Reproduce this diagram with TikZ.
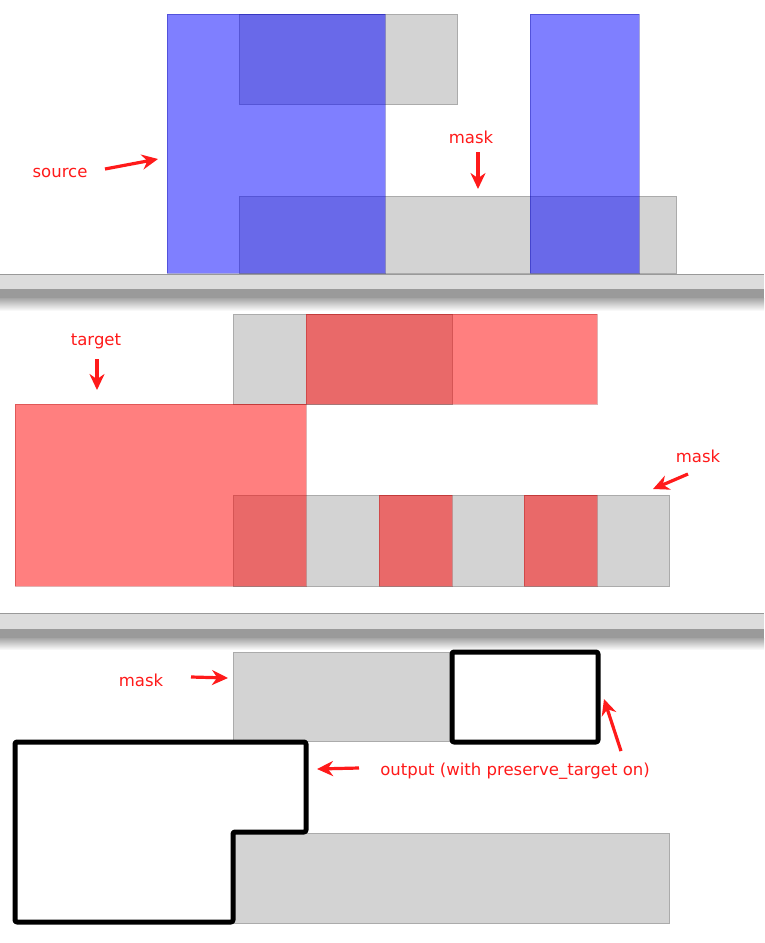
\documentclass[tikz,border=0pt]{standalone}
\usepackage{fontspec}
\newfontfamily\labelfont{DejaVu Sans}
\usetikzlibrary{arrows.meta}

\definecolor{maskgray}{HTML}{D3D3D3}
\definecolor{maskedge}{HTML}{ABABAB}
\definecolor{barlight}{HTML}{DCDCDC}
\definecolor{bardark}{HTML}{9A9A9A}
\definecolor{callred}{HTML}{FF1A1A}

\tikzset{
    maskbox/.style={fill=maskgray, draw=maskedge, line width=0.8},
    srcbox/.style={fill=blue, fill opacity=0.5, draw=blue!60!black, draw opacity=0.35, line width=0.8},
    tgtbox/.style={fill=red, fill opacity=0.5, draw=red!60!black, draw opacity=0.3, line width=0.8},
    outbox/.style={draw=black, line width=5, line join=round, rounded corners=2},
    callout/.style={text=callred, font=\labelfont\fontsize{16.5}{18}\selectfont, inner sep=1},
    pointer/.style={draw=callred, line width=3.2, -{Stealth[length=16, width=15]}}
}

\begin{document}
\begin{tikzpicture}[x=1pt, y=-1pt]
    \fill[white] (0, 0) rectangle (764, 943);
    \useasboundingbox (0, 0) rectangle (764, 943);

    % window bars between the three shots
    \fill[barlight] (0, 274) rectangle (764, 289);
    \fill[bardark] (0, 289) rectangle (764, 298);
    \shade[top color=black!35, bottom color=white] (0, 298) rectangle (764, 311);
    \draw[black!40, line width=1] (0, 274) -- (764, 274);

    \fill[barlight] (0, 613) rectangle (764, 629);
    \fill[bardark] (0, 629) rectangle (764, 638);
    \shade[top color=black!35, bottom color=white] (0, 638) rectangle (764, 650);
    \draw[black!40, line width=1] (0, 613) -- (764, 613);

    % source over mask
    \draw[maskbox] (239, 14) rectangle (457, 104);
    \draw[maskbox] (239, 196) rectangle (676, 273);
    \draw[srcbox] (167, 14) rectangle (385, 273);
    \draw[srcbox] (530, 14) rectangle (639, 273);

    \node[callout] (source) at (60, 173) {source};
    \coordinate (sourcetail) at (105, 169);
    \coordinate (sourcetip) at (158, 159);
    \draw[pointer] (sourcetail) -- (sourcetip);

    \node[callout] (maskA) at (471, 137) {mask};
    \coordinate (maskAtail) at (478, 152);
    \coordinate (maskAtip) at (478, 189);
    \draw[pointer] (maskAtail) -- (maskAtip);

    % target over mask
    \draw[maskbox] (233, 314) rectangle (452, 404);
    \draw[maskbox] (233, 495) rectangle (669, 586);
    \draw[tgtbox] (306, 314) rectangle (597, 404);
    \draw[tgtbox] (15, 404) rectangle (306, 586);
    \draw[tgtbox] (379, 495) rectangle (452, 586);
    \draw[tgtbox] (524, 495) rectangle (597, 586);

    \node[callout] (target) at (96, 341) {target};
    \coordinate (targettail) at (97, 359);
    \coordinate (targettip) at (97, 390);
    \draw[pointer] (targettail) -- (targettip);

    \node[callout] (maskB) at (698, 456) {mask};
    \coordinate (maskBtail) at (688, 474);
    \coordinate (maskBtip) at (653, 489);
    \draw[pointer] (maskBtail) -- (maskBtip);

    % output
    \draw[maskbox] (233, 652) rectangle (452, 741);
    \draw[maskbox] (233, 833) rectangle (669, 923);
    \draw[outbox] (452, 652) rectangle (598, 742);
    \draw[outbox] (15, 742) -- (306, 742) -- (306, 832) -- (233, 832)
        -- (233, 922) -- (15, 922) -- cycle;

    \node[callout] (maskC) at (141, 680) {mask};
    \coordinate (maskCtail) at (191, 677);
    \coordinate (maskCtip) at (228, 678);
    \draw[pointer] (maskCtail) -- (maskCtip);

    \node[callout] (output) at (515, 771) {output (with preserve\_target on)};
    \coordinate (outputtail) at (359, 768);
    \coordinate (outputtip) at (317, 769);
    \draw[pointer] (outputtail) -- (outputtip);
    \coordinate (outputtailB) at (621, 751);
    \coordinate (outputtipB) at (604, 699);
    \draw[pointer] (outputtailB) -- (outputtipB);
\end{tikzpicture}
\end{document}
